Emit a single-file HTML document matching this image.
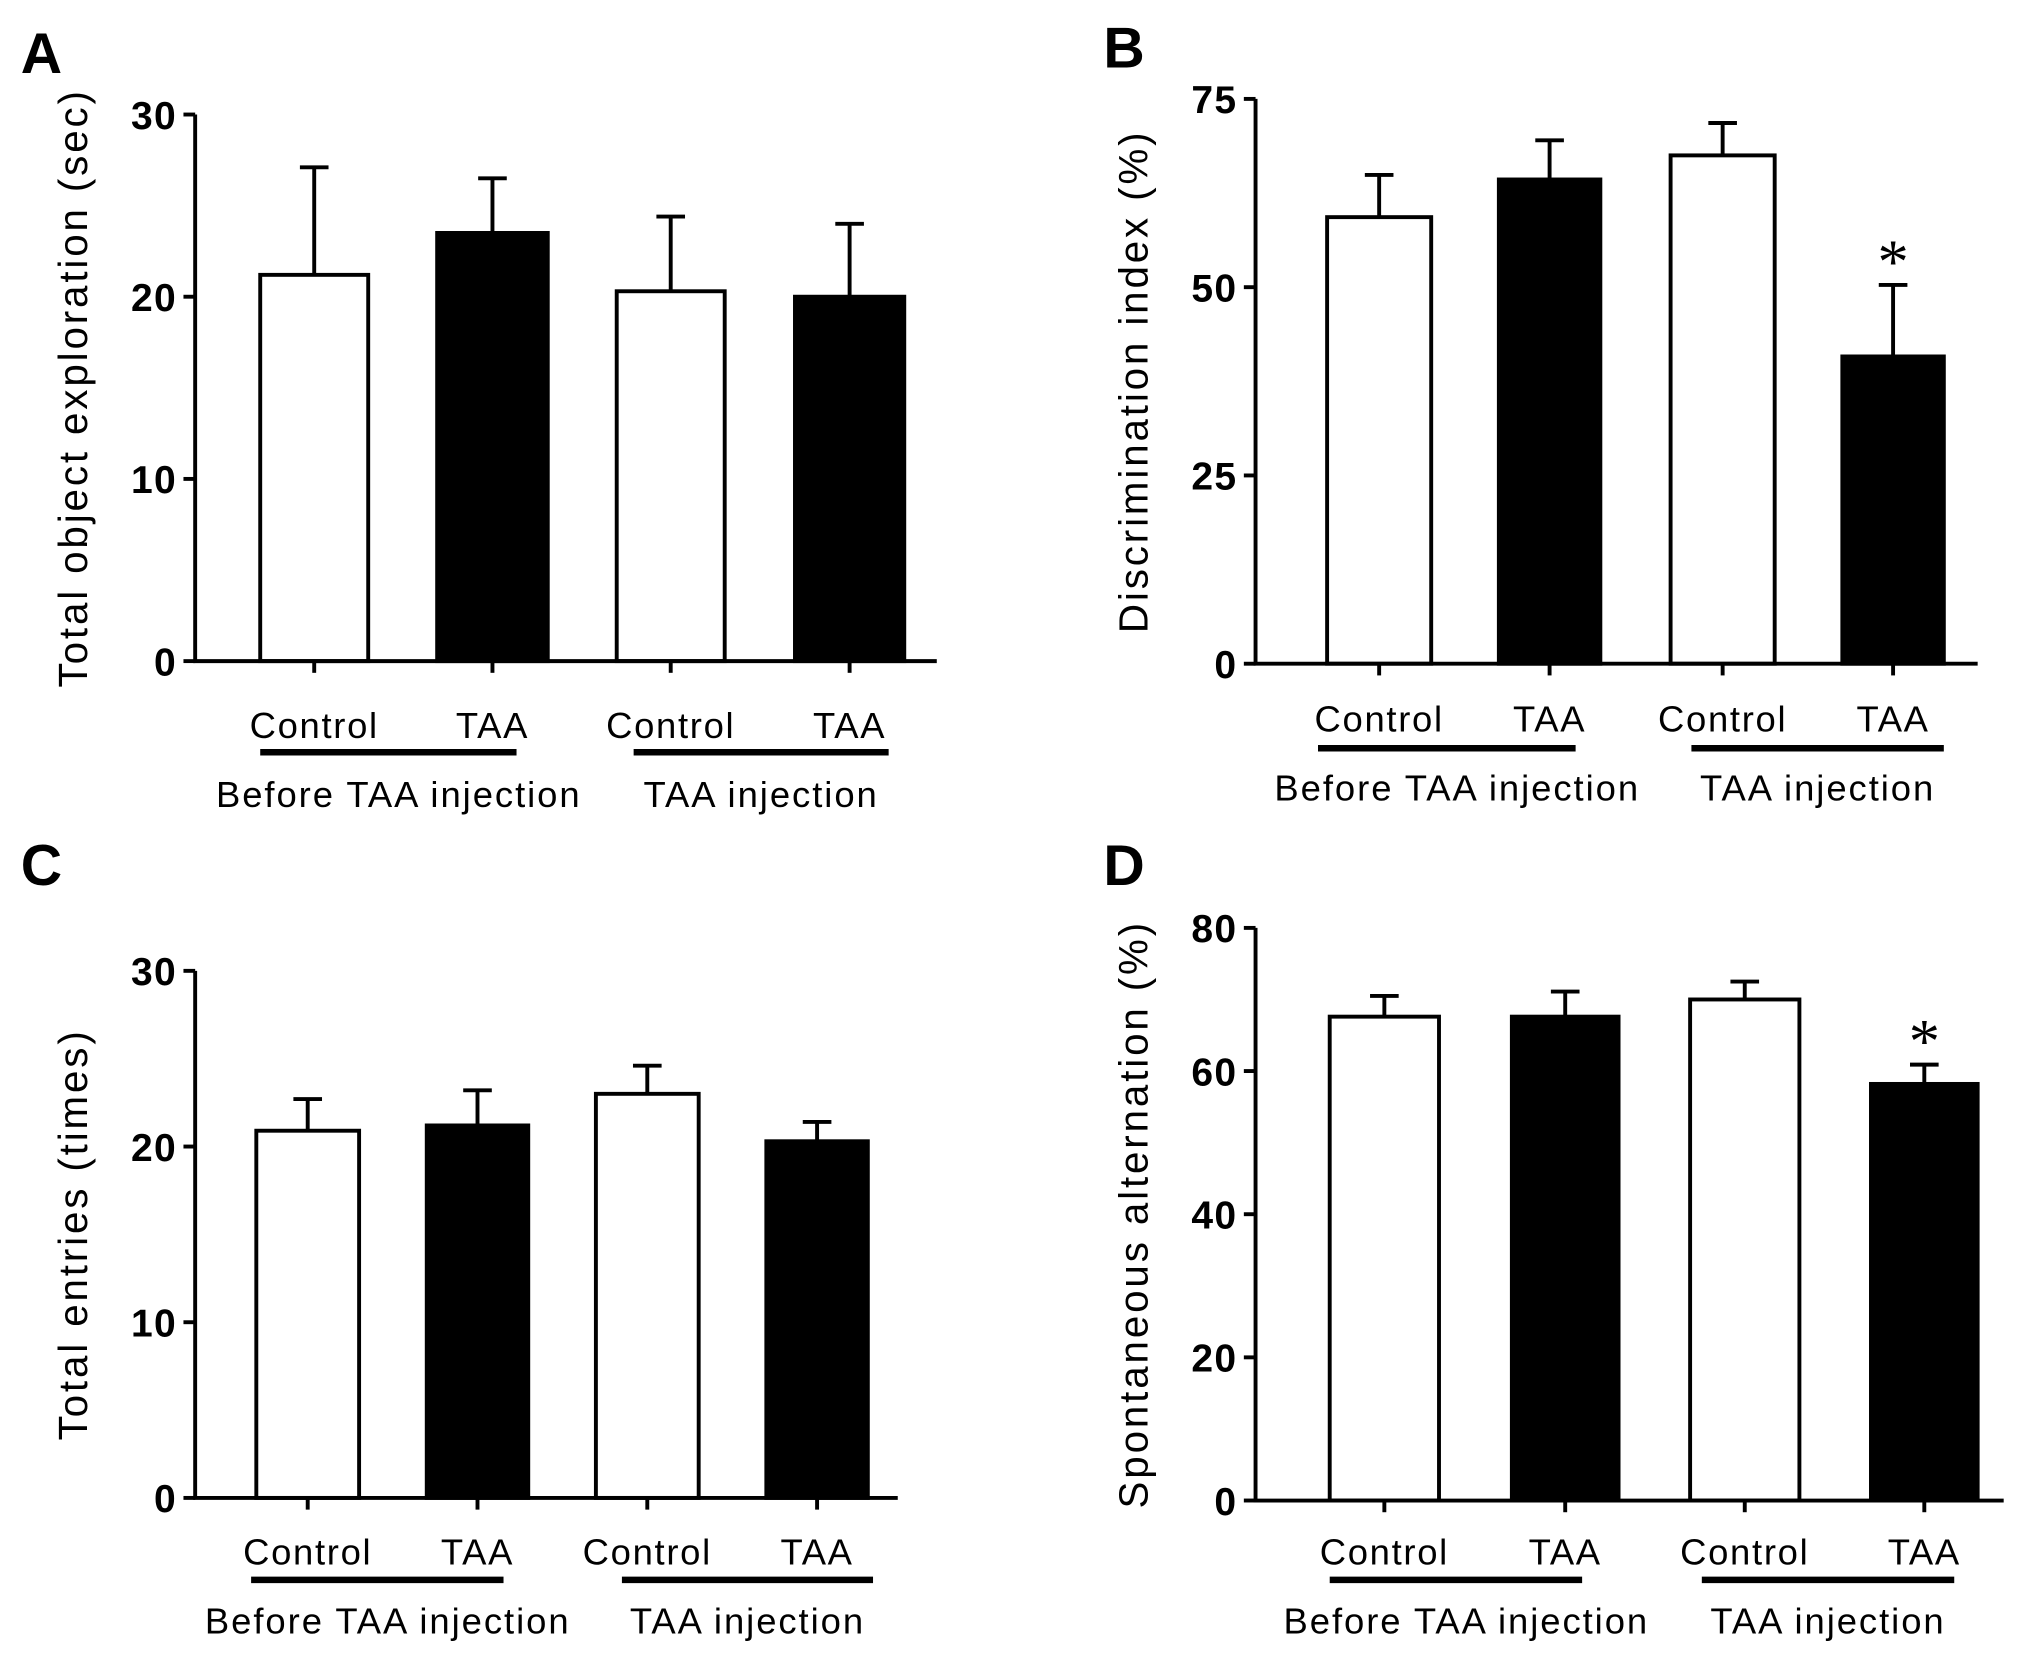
<!DOCTYPE html>
<html><head><meta charset="utf-8"><style>
html,body{margin:0;padding:0;background:#fff;}
svg{display:block;font-family:"Liberation Sans","DejaVu Sans",sans-serif;}
</style></head><body>
<svg id="fig" width="2031" height="1671" viewBox="0 0 1561 1284" preserveAspectRatio="none" xmlns="http://www.w3.org/2000/svg"></svg>
<script>
const groupLabels = ["Before TAA injection", "TAA injection"];
const barLabels = ["Control", "TAA", "Control", "TAA"];
const valuesA = [21.2, 23.5, 20.3, 20.0];
const errorsA = [5.9, 3.0, 4.1, 4.0];
const valuesB = [59.3, 64.3, 67.5, 40.8];
const errorsB = [5.6, 5.2, 4.3, 9.5];
const valuesC = [20.9, 21.2, 23.0, 20.3];
const errorsC = [1.8, 2.0, 1.6, 1.1];
const valuesD = [67.6, 67.6, 70.0, 58.2];
const errorsD = [2.9, 3.5, 2.5, 2.7];
const ticksA = [0, 10, 20, 30];
const ticksB = [0, 25, 50, 75];
const ticksC = [0, 10, 20, 30];
const ticksD = [0, 20, 40, 60, 80];
const sigB = [false, false, false, true];
const sigD = [false, false, false, true];

const svg = document.getElementById('fig');
const NS = 'http://www.w3.org/2000/svg';
function mk(tag, attrs, parent){const e=document.createElementNS(NS,tag);for(const k in attrs)e.setAttribute(k,attrs[k]);(parent||svg).appendChild(e);return e;}

const panels = [
 {id:'a',letter:'A',lx:16,ly:56,ax:150,y0:508,yTop:88,max:30,xEnd:720,bars:[[200,283],[336,421],[474,557],[611,695]],vals:valuesA,errs:errorsA,ticks:ticksA,sig:[false,false,false,false],title:'Total object exploration (sec)',labY:557,lineY:578,lines:[[200,397],[487,683]],grpY:610},
 {id:'b',letter:'B',lx:848,ly:52,ax:965,y0:510,yTop:76,max:75,xEnd:1520,bars:[[1020,1100],[1152,1230],[1284,1364],[1416,1494]],vals:valuesB,errs:errorsB,ticks:ticksB,sig:sigB,title:'Discrimination index (%)',labY:552,lineY:575,lines:[[1013,1211],[1300,1494]],grpY:605},
 {id:'c',letter:'C',lx:16,ly:680,ax:150,y0:1151,yTop:746,max:30,xEnd:690,bars:[[197,276],[328,406],[458,537],[589,667]],vals:valuesC,errs:errorsC,ticks:ticksC,sig:[false,false,false,false],title:'Total entries (times)',labY:1192,lineY:1214,lines:[[193,387],[478,671]],grpY:1245},
 {id:'d',letter:'D',lx:848,ly:680,ax:965,y0:1153,yTop:713,max:80,xEnd:1540,bars:[[1022,1106],[1162,1244],[1299,1383],[1438,1520]],vals:valuesD,errs:errorsD,ticks:ticksD,sig:sigD,title:'Spontaneous alternation (%)',labY:1192,lineY:1214,lines:[[1022,1216],[1308,1502]],grpY:1245}
];

panels.forEach(p=>{
 const g = mk('g',{});
 
 
 const yS = v => p.y0 - (p.y0-p.yTop)*v/p.max;
 const L = mk('text',{x:p.lx,y:p.ly,'font-size':44,'font-weight':'bold'},g); L.textContent=p.letter;
  
 p.vals.forEach((v,i)=>{
  const [x1,x2]=p.bars[i]; const cx=(x1+x2)/2; const top=yS(v+p.errs[i]);
  const eb=mk('path',{d:`M${cx} ${yS(v)} V${top} M${cx-11} ${top} H${cx+11}`,stroke:'#000','stroke-width':3,fill:'none'},g);
   
  const r=mk('rect',{x:x1,y:yS(v),width:x2-x1,height:p.y0-yS(v),fill:i%2?'#000':'#fff',stroke:'#000','stroke-width':3},g);
   
  mk('path',{d:`M${cx} ${p.y0} V${p.y0+9}`,stroke:'#000','stroke-width':3},g);
  if(p.sig[i]){const s=mk('text',{x:cx,y:top-2,'font-size':48,'text-anchor':'middle','font-family':'Liberation Serif, serif'},g);s.textContent='*';
    }
  const bl=mk('text',{x:cx,y:p.labY+10,'font-size':28,'letter-spacing':1.3,'text-anchor':'middle'},g); bl.textContent=barLabels[i];
   
 });
 const ax=mk('path',{d:`M${p.ax} ${p.yTop} V${p.y0} H${p.xEnd}`,stroke:'#000','stroke-width':3,fill:'none'},g);
  
 p.ticks.forEach(t=>{
  mk('path',{d:`M${p.ax-9} ${yS(t)} H${p.ax}`,stroke:'#000','stroke-width':3},g);
  const tl=mk('text',{x:p.ax-14,y:yS(t)+11,'font-size':30,'font-weight':'bold','letter-spacing':1,'text-anchor':'end'},g); tl.textContent=t;
   
 });
 const ty=(p.y0+p.yTop)/2;
 const yt=mk('text',{x:0,y:0,'font-size':31,'letter-spacing':2.2,'text-anchor':'middle',transform:`translate(${p.ax-83},${ty}) rotate(-90)`},g); yt.textContent=p.title;
  
 p.lines.forEach((ln,j)=>{
  const gl=mk('path',{d:`M${ln[0]} ${p.lineY} H${ln[1]}`,stroke:'#000','stroke-width':5},g);
   
  const gt=mk('text',{x:(ln[0]+ln[1])/2+(j==0?8:0),y:p.grpY+10,'font-size':28,'letter-spacing':1.5,'text-anchor':'middle'},g); gt.textContent=groupLabels[j];
   
 });
});
</script>
</body></html>
